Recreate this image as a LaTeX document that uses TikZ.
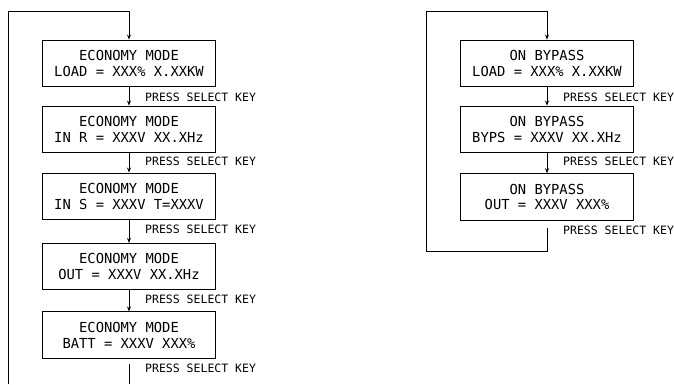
\documentclass[tikz,border=0pt]{standalone}
\usepackage{fontspec}
\setmonofont{DejaVu Sans Mono}
\usetikzlibrary{arrows.meta}

\begin{document}
\begin{tikzpicture}[x=1pt,y=1pt,yscale=-1,
  lcd/.style={draw,line width=1pt,minimum width=172.5pt,minimum height=46.5pt,align=center,inner sep=0pt,font=\ttfamily\fontsize{13.8}{15.7}\selectfont},
  keylbl/.style={anchor=west,inner sep=0pt,font=\ttfamily\fontsize{11.5}{12}\selectfont},
  wire/.style={line width=1pt},
  arr/.style={wire,-{Stealth[length=5pt,width=4pt]}}]
\useasboundingbox (0,0) rectangle (674,384);

% Economy mode screens
\node[lcd] (e1) at (129,63.3) {ECONOMY MODE\\LOAD = XXX\% X.XXKW};
\node[lcd] (e2) at (129,129.3) {ECONOMY MODE\\IN R = XXXV XX.XHz};
\node[lcd] (e3) at (129,196.3) {ECONOMY MODE\\IN S = XXXV T=XXXV};
\node[lcd] (e4) at (129,266.7) {ECONOMY MODE\\OUT = XXXV XX.XHz};
\node[lcd] (e5) at (129,335.2) {ECONOMY MODE\\BATT = XXXV XXX\%};

% Key labels
\node[keylbl] (k1) at (145,97) {PRESS SELECT KEY};
\node[keylbl] (k2) at (145,161) {PRESS SELECT KEY};
\node[keylbl] (k3) at (145,229) {PRESS SELECT KEY};
\node[keylbl] (k4) at (145,299) {PRESS SELECT KEY};
\node[keylbl] (k5) at (145,368.3) {PRESS SELECT KEY};

% Arrows
\draw[arr] (e1.south) -- (e2.north);
\draw[arr] (e2.south) -- (e3.north);
\draw[arr] (e3.south) -- (e4.north);
\draw[arr] (e4.south) -- (e5.north);

% Return loop
\coordinate (ytop) at (0,11.7);
\coordinate (ybot) at (0,384);
\coordinate (lside) at (8.3,384);
\coordinate (e5out) at (0,364.3);
\draw[arr] (lside) |- (e1.north |- ytop) -- (e1.north);
\draw[wire] (e5.south |- e5out) -- (e5.south |- ybot);

% On bypass screens
\node[lcd] (b1) at (547,63.3) {ON BYPASS\\LOAD = XXX\% X.XXKW};
\node[lcd] (b2) at (547,129.3) {ON BYPASS\\BYPS = XXXV XX.XHz};
\node[lcd] (b3) at (547,197) {ON BYPASS\\OUT = XXXV XXX\%};

% Key labels
\node[keylbl] (r1) at (563,97) {PRESS SELECT KEY};
\node[keylbl] (r2) at (563,161.7) {PRESS SELECT KEY};
\node[keylbl] (r3) at (563,230) {PRESS SELECT KEY};

% Arrows
\draw[arr] (b1.south) -- (b2.north);
\draw[arr] (b2.south) -- (b3.north);

% Return loop
\coordinate (b3out) at (0,227.7);
\coordinate (rbot) at (0,251.7);
\coordinate (rside) at (426.7,0);
\draw[arr] (b3.south |- b3out) -- (b3.south |- rbot) -| (rside |- ytop) -- (b1.north |- ytop) -- (b1.north);

\end{tikzpicture}
\end{document}
